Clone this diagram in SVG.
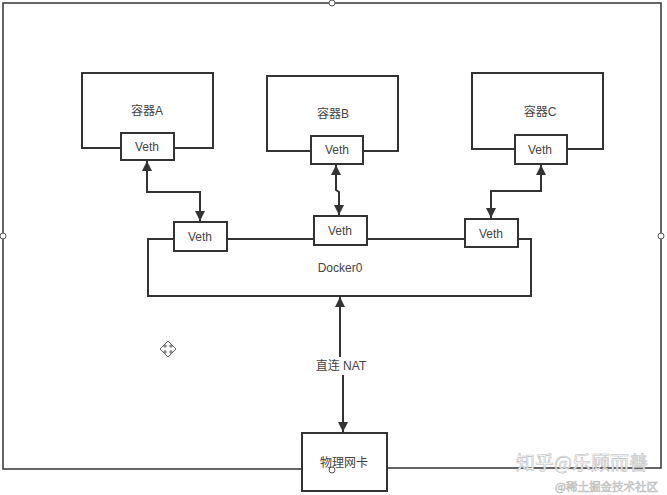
<svg xmlns="http://www.w3.org/2000/svg" width="667" height="495" viewBox="0 0 667 495">
<defs>
<marker id="arr" viewBox="0 0 10 10" refX="10" refY="5" markerWidth="10" markerHeight="10" markerUnits="userSpaceOnUse" orient="auto-start-reverse">
<path d="M0,0 L10,5 L0,10 z" fill="#333"/>
</marker>
<style>
.box{fill:#fff;stroke:#333;stroke-width:2}
.frame{fill:none;stroke:#333;stroke-width:1.5}
.t{font-family:"Liberation Sans","Noto Sans CJK SC",sans-serif;font-size:12px;fill:#444;text-anchor:middle;dominant-baseline:central}
.c{fill:none;stroke:#333;stroke-width:2}
.h{fill:#fff;stroke:#555;stroke-width:1}
.wm{font-family:"Noto Sans CJK SC",sans-serif;fill:#fff;stroke:#bbb;stroke-width:0.6;text-anchor:end}
</style>
</defs>
<rect width="667" height="495" fill="#fff"/>
<g id="frame">
<path class="frame" d="M302,469 L3,469 L3,3 L661,3 L661,468 L387,468"/>
<circle class="h" cx="332" cy="3" r="3"/>
<circle class="h" cx="3" cy="236" r="3"/>
<circle class="h" cx="661" cy="236" r="3"/>
</g>
<g id="connectors">
<path class="c" d="M147,161 L147,192 L200,192 L200,221" marker-start="url(#arr)" marker-end="url(#arr)"/>
<path class="c" d="M336,165 L336,190 L339,192 L339,215" marker-start="url(#arr)" marker-end="url(#arr)"/>
<path class="c" d="M541,165 L541,191 L491,191 L491,218" marker-start="url(#arr)" marker-end="url(#arr)"/>
<path class="c" d="M340,297 L340,366 L343,366 L343,432" marker-start="url(#arr)" marker-end="url(#arr)"/>
<rect x="306" y="357" width="70" height="18" fill="#fff"/>
<text class="t" x="341" y="366">直连 NAT</text>
</g>
<g id="containerA">
<path class="box" d="M121,148 L82,148 L82,73 L213,73 L213,148 L174,148"/>
<text class="t" x="147" y="111">容器A</text>
</g>
<g id="vethA">
<rect class="box" x="121" y="133" width="53" height="27"/>
<text class="t" x="147" y="147">Veth</text>
</g>
<g id="containerB">
<path class="box" d="M311,151 L267,151 L267,76 L398,76 L398,151 L363,151"/>
<text class="t" x="333" y="114">容器B</text>
</g>
<g id="vethB">
<rect class="box" x="311" y="136" width="52" height="28"/>
<text class="t" x="337" y="150">Veth</text>
</g>
<g id="containerC">
<path class="box" d="M515,149 L472,149 L472,73 L603,73 L603,149 L567,149"/>
<text class="t" x="540" y="112">容器C</text>
</g>
<g id="vethC">
<rect class="box" x="515" y="135" width="52" height="29"/>
<text class="t" x="540" y="150">Veth</text>
</g>
<g id="docker0">
<path class="box" d="M174,239 L148,239 L148,296 L531,296 L531,239 L518,239 M465,239 L367,239 M314,239 L227,239"/>
<text class="t" x="340" y="268">Docker0</text>
</g>
<g id="veth1">
<rect class="box" x="174" y="222" width="53" height="29"/>
<text class="t" x="200" y="237">Veth</text>
</g>
<g id="veth2">
<rect class="box" x="314" y="216" width="53" height="29"/>
<text class="t" x="340" y="231">Veth</text>
</g>
<g id="veth3">
<rect class="box" x="465" y="219" width="53" height="28"/>
<text class="t" x="491" y="234">Veth</text>
</g>
<g id="nic">
<rect class="box" x="302" y="433" width="85" height="58"/>
<text class="t" x="344" y="463">物理网卡</text>
<circle class="h" cx="332" cy="470" r="3"/>
</g>
<g id="cursor" fill="none" stroke="#666" stroke-width="1">
<path d="M168,341 L164,345 L166,345 L166,347 L164,347 L164,345 L160,349 L164,353 L164,351 L166,351 L166,353 L164,353 L168,357 L172,353 L170,353 L170,351 L172,351 L172,353 L176,349 L172,345 L172,347 L170,347 L170,345 L172,345 Z"/>
</g>
<g id="watermark">
<text class="wm" x="648" y="470" font-size="19">知乎@乐顾而善</text>
<text class="wm" x="658" y="491" font-size="11.5">@稀土掘金技术社区</text>
</g>
</svg>
